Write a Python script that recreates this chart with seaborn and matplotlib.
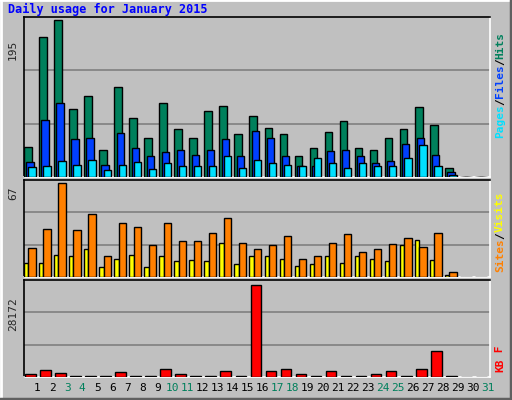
import numpy as np
import matplotlib
matplotlib.use("Agg")
import matplotlib.pyplot as plt
import seaborn as sns
from matplotlib.lines import Line2D

days = list(range(1, 32))
weekend_days = [3, 4, 10, 11, 17, 18, 24, 25, 31]

hits = [37.5, 174, 195, 85, 101, 33.5, 112, 73, 49, 92, 60, 49, 82.5, 88, 53,
        76, 61, 53, 25.6, 36, 56, 69, 36, 33.5, 49, 60, 86.5, 65, 11, 0, 0]
files = [19, 70.6, 92, 47, 48, 15, 55, 36, 25.6, 31, 33.5, 27, 33.5, 47, 25.6,
         57, 49, 25.6, 13.7, 13.7, 32, 33.5, 25.6, 17.6, 20, 41.5, 49, 27, 5.7, 0, 0]
pages = [12.4, 13.7, 20, 15, 21.6, 8.4, 15, 19, 9.7, 17.6, 13.7, 13.7, 13.7, 25.6, 11,
         21.6, 17.6, 15, 13.7, 23, 17.6, 11, 17.6, 13.7, 13.7, 24, 40, 13.7, 3, 0, 0]
visits = [10.2, 10.2, 16, 14.6, 19.7, 7.3, 13.1, 16, 7.3, 14.6, 11.7, 12.4, 11.7, 24, 9.5,
          14.6, 14.6, 13.1, 8, 9.5, 14.6, 10.2, 14.6, 13.1, 11.7, 22.6, 26.2, 12.4, 1.5, 0, 0]
sites = [20.4, 34.2, 67, 33.5, 45, 14.6, 38.6, 35.7, 22.6, 38.6, 25.5, 25.5, 31.3, 42.2, 24,
         19.7, 22.6, 29, 13.1, 14.6, 24, 30.6, 17.5, 19.7, 23.3, 27.7, 21, 31.3, 3.6, 0, 0]
kbytes = [820, 2050, 1130, 200, 200, 200, 1440, 200, 200, 2360, 820, 200, 200, 1750, 200,
          28172, 1750, 2360, 820, 200, 1750, 200, 200, 820, 1750, 200, 2360, 7900, 200, 0, 0]

BG = "#C0C0C0"
sns.set_theme(style="white")
plt.rcParams["font.family"] = ["DejaVu Sans Mono"]

fig = plt.figure(figsize=(5.12, 4.0), dpi=100)
fig.patch.set_facecolor(BG)
W, H = 512, 400

def px_axes(x0, y0, x1, y1):
    ax = fig.add_axes([x0 / W, 1 - y1 / H, (x1 - x0) / W, (y1 - y0) / H])
    ax.set_facecolor(BG)
    for s in ax.spines.values():
        s.set_linewidth(1.2)
    ax.spines["top"].set_color("black")
    ax.spines["left"].set_color("black")
    ax.spines["right"].set_color("white")
    ax.spines["bottom"].set_color("white")
    ax.set_xlim(0.45, 31.45)
    ax.set_xticks([])
    ax.set_yticks([])
    return ax

def draw_bars(ax, vals, left, right, color):
    x = np.array(days) - 0.55 + (left + right) / 2
    ax.bar(x, vals, width=right - left, color=color, edgecolor="black", linewidth=1.0, zorder=3)

def grid(ax, top):
    for f in (1 / 3, 2 / 3):
        ax.axhline(top * f, color="#808080", linewidth=1.2, zorder=1)

# top panel
ax1 = px_axes(24, 17, 490, 177)
ax1.set_ylim(0, 195 * 1.02)
grid(ax1, 195 * 1.02)
draw_bars(ax1, hits, 0.0, 0.51, "#00805C")
draw_bars(ax1, files, 0.155, 0.64, "#0040FF")
draw_bars(ax1, pages, 0.29, 0.78, "#00E0FF")

# middle panel
ax2 = px_axes(24, 180, 490, 277)
ax2.set_ylim(0, 67 * 1.03)
grid(ax2, 67 * 1.03)
draw_bars(ax2, visits, 0.0, 0.29, "#FFFF00")
draw_bars(ax2, sites, 0.29, 0.78, "#FF8000")

# bottom panel
ax3 = px_axes(24, 280, 490, 377)
ax3.set_ylim(0, 28172 * 1.05)
grid(ax3, 28172 * 1.05)
draw_bars(ax3, kbytes, 0.07, 0.78, "#FF0000")

# day labels
for d in days:
    c = "#00805C" if d in weekend_days else "black"
    fig.text((24 + (d - 0.55 + 0.42) * 15.03) / W, 1 - 388 / H, str(d),
             ha="center", va="center", fontsize=8, color=c)

# title
fig.text(8 / W, 1 - 9 / H, "Daily usage for January 2015", color="#0000FF",
         fontsize=8.5, fontweight="bold", ha="left", va="center")

# left max labels
for y, txt in ((40, "195"), (187, "67"), (297, "28172")):
    fig.text(13 / W, 1 - y / H, txt, rotation=90, fontsize=8, ha="center", va="top")

# right legends
def right_legend(y_bottom, parts):
    y = y_bottom
    for txt, col in parts:
        t = fig.text(500 / W, 1 - y / H, txt, rotation=90, fontsize=8, fontweight="bold",
                     color=col, ha="center", va="bottom")
        y -= len(txt) * 6.6

right_legend(138, [("Pages", "#00E0FF"), ("/", "black"), ("Files", "#0040FF"),
                   ("/", "black"), ("Hits", "#00805C")])
right_legend(272, [("Sites", "#FF8000"), ("/", "black"), ("Visits", "#FFFF00")])
right_legend(372, [("KB", "#FF0000"), (" F", "#FF0000")])

# bevel border
fig.add_artist(Line2D([0, 1], [0.999, 0.999], color="white", linewidth=2, transform=fig.transFigure))
fig.add_artist(Line2D([0.001, 0.001], [0, 1], color="white", linewidth=2, transform=fig.transFigure))
fig.add_artist(Line2D([0, 1], [0.002, 0.002], color="#606060", linewidth=2.5, transform=fig.transFigure))
fig.add_artist(Line2D([0.998, 0.998], [0, 1], color="#606060", linewidth=2.5, transform=fig.transFigure))

fig.savefig("out.png", dpi=100, facecolor=BG)
